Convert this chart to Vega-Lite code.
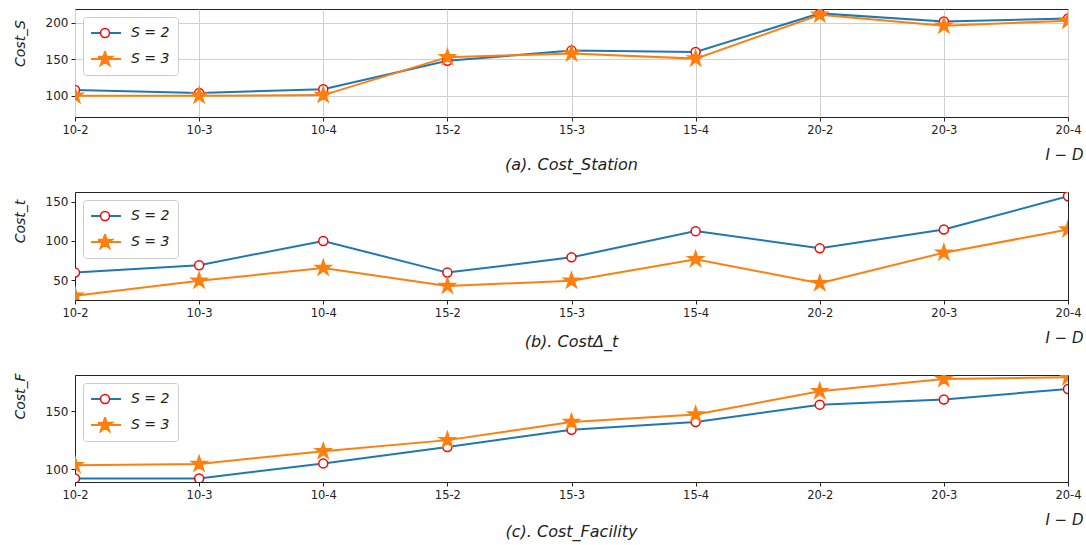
{
  "$schema": "https://vega.github.io/schema/vega-lite/v6.json",
  "background": "white",
  "padding": {"left": 12, "top": 8, "right": 0, "bottom": 2},
  "datasets": {
    "costs": [
      {"panel": "a", "ID": "10-2", "series": "S = 2", "value": 108},
      {"panel": "a", "ID": "10-3", "series": "S = 2", "value": 104},
      {"panel": "a", "ID": "10-4", "series": "S = 2", "value": 109},
      {"panel": "a", "ID": "15-2", "series": "S = 2", "value": 148},
      {"panel": "a", "ID": "15-3", "series": "S = 2", "value": 162},
      {"panel": "a", "ID": "15-4", "series": "S = 2", "value": 160},
      {"panel": "a", "ID": "20-2", "series": "S = 2", "value": 213},
      {"panel": "a", "ID": "20-3", "series": "S = 2", "value": 202},
      {"panel": "a", "ID": "20-4", "series": "S = 2", "value": 206},
      {"panel": "a", "ID": "10-2", "series": "S = 3", "value": 100},
      {"panel": "a", "ID": "10-3", "series": "S = 3", "value": 100},
      {"panel": "a", "ID": "10-4", "series": "S = 3", "value": 101},
      {"panel": "a", "ID": "15-2", "series": "S = 3", "value": 153},
      {"panel": "a", "ID": "15-3", "series": "S = 3", "value": 158},
      {"panel": "a", "ID": "15-4", "series": "S = 3", "value": 151},
      {"panel": "a", "ID": "20-2", "series": "S = 3", "value": 211},
      {"panel": "a", "ID": "20-3", "series": "S = 3", "value": 196},
      {"panel": "a", "ID": "20-4", "series": "S = 3", "value": 203},
      {"panel": "b", "ID": "10-2", "series": "S = 2", "value": 59.5},
      {"panel": "b", "ID": "10-3", "series": "S = 2", "value": 69},
      {"panel": "b", "ID": "10-4", "series": "S = 2", "value": 100},
      {"panel": "b", "ID": "15-2", "series": "S = 2", "value": 59.5},
      {"panel": "b", "ID": "15-3", "series": "S = 2", "value": 79},
      {"panel": "b", "ID": "15-4", "series": "S = 2", "value": 112.5},
      {"panel": "b", "ID": "20-2", "series": "S = 2", "value": 90.5},
      {"panel": "b", "ID": "20-3", "series": "S = 2", "value": 114.5},
      {"panel": "b", "ID": "20-4", "series": "S = 2", "value": 157},
      {"panel": "b", "ID": "10-2", "series": "S = 3", "value": 30},
      {"panel": "b", "ID": "10-3", "series": "S = 3", "value": 49},
      {"panel": "b", "ID": "10-4", "series": "S = 3", "value": 65.5},
      {"panel": "b", "ID": "15-2", "series": "S = 3", "value": 42.5},
      {"panel": "b", "ID": "15-3", "series": "S = 3", "value": 49},
      {"panel": "b", "ID": "15-4", "series": "S = 3", "value": 76.5},
      {"panel": "b", "ID": "20-2", "series": "S = 3", "value": 46},
      {"panel": "b", "ID": "20-3", "series": "S = 3", "value": 85},
      {"panel": "b", "ID": "20-4", "series": "S = 3", "value": 114.5},
      {"panel": "c", "ID": "10-2", "series": "S = 2", "value": 92},
      {"panel": "c", "ID": "10-3", "series": "S = 2", "value": 92},
      {"panel": "c", "ID": "10-4", "series": "S = 2", "value": 105},
      {"panel": "c", "ID": "15-2", "series": "S = 2", "value": 119},
      {"panel": "c", "ID": "15-3", "series": "S = 2", "value": 134},
      {"panel": "c", "ID": "15-4", "series": "S = 2", "value": 140.5},
      {"panel": "c", "ID": "20-2", "series": "S = 2", "value": 155.5},
      {"panel": "c", "ID": "20-3", "series": "S = 2", "value": 160},
      {"panel": "c", "ID": "20-4", "series": "S = 2", "value": 169},
      {"panel": "c", "ID": "10-2", "series": "S = 3", "value": 103.5},
      {"panel": "c", "ID": "10-3", "series": "S = 3", "value": 104.5},
      {"panel": "c", "ID": "10-4", "series": "S = 3", "value": 115.5},
      {"panel": "c", "ID": "15-2", "series": "S = 3", "value": 125},
      {"panel": "c", "ID": "15-3", "series": "S = 3", "value": 140.5},
      {"panel": "c", "ID": "15-4", "series": "S = 3", "value": 147},
      {"panel": "c", "ID": "20-2", "series": "S = 3", "value": 167},
      {"panel": "c", "ID": "20-3", "series": "S = 3", "value": 177.5},
      {"panel": "c", "ID": "20-4", "series": "S = 3", "value": 179}
    ]
  },
  "bounds": "flush",
  "spacing": 75,
  "resolve": {
    "scale": {"color": "independent", "fill": "independent", "stroke": "independent", "shape": "independent"},
    "legend": {"color": "independent", "fill": "independent", "stroke": "independent", "shape": "independent"}
  },
  "vconcat": [
    {
      "width": 993, "height": 108,
      "data": {"name": "costs"},
      "transform": [{"filter": "datum.panel === 'a'"}],
      "title": {"text": "(a). Cost_Station", "orient": "bottom", "anchor": "middle", "frame": "group", "offset": -5, "font": "DejaVu Sans", "fontSize": 16, "fontStyle": "italic", "fontWeight": "normal", "color": "#222"},
      "encoding": {
        "x": {"field": "ID", "type": "ordinal", "sort": null, "scale": {"type": "point", "padding": 0},
          "axis": {"title": "I − D", "labelAngle": 0, "labelFont": "DejaVu Sans", "labelFontSize": 11.5, "labelPadding": 3, "tickSize": 4, "domain": false, "grid": true, "gridColor": "#d0d0d0", "titleX": 1008, "titleY": 37, "titleAlign": "right", "titleBaseline": "middle", "titleFont": "DejaVu Sans", "titleFontSize": 15, "titleFontStyle": "italic", "titleFontWeight": "normal"}},
        "y": {"field": "value", "type": "quantitative", "scale": {"domain": [71, 219], "nice": false, "zero": false},
          "axis": {"title": "Cost_S", "values": [100, 150, 200], "labelFont": "DejaVu Sans", "labelFontSize": 12, "labelPadding": 3, "tickSize": 4, "domain": false, "grid": true, "gridColor": "#d0d0d0", "titlePadding": 18, "titleY": 34, "titleFont": "DejaVu Sans", "titleFontSize": 14, "titleFontStyle": "italic", "titleFontWeight": "normal"}}
      },
      "layer": [
        {"mark": {"type": "line", "strokeWidth": 2, "clip": true},
         "encoding": {"color": {"field": "series", "type": "nominal", "scale": {"range": ["#1f77b4", "#ff7f0e"]},
           "legend": {"orient": "top-left", "offset": 8, "title": null, "symbolType": "M-2,0H4.6", "symbolSize": 100, "symbolStrokeWidth": 2, "labelFont": "DejaVu Sans", "labelFontSize": 14, "labelFontStyle": "italic", "labelOffset": 26, "labelColor": "#222", "padding": 8, "clipHeight": 16, "rowPadding": 10, "strokeColor": "#cccccc", "fillColor": "#ffffff", "cornerRadius": 3}}}},
        {"mark": {"type": "point", "filled": true, "opacity": 1, "size": 81, "strokeWidth": 1.5, "clip": true},
         "encoding": {
           "shape": {"field": "series", "type": "nominal", "scale": {"range": ["circle", "M0,-1.8L0.404,-0.556L1.712,-0.556L0.654,0.213L1.058,1.456L0,0.688L-1.058,1.456L-0.654,0.213L-1.712,-0.556L-0.404,-0.556Z"]},
             "legend": {"orient": "none", "legendX": 15, "legendY": 8, "title": null, "symbolSize": 81, "symbolStrokeWidth": 1.5, "symbolOpacity": 1, "labelExpr": "''", "labelFontSize": 14, "labelOffset": 26, "padding": 8, "clipHeight": 16, "rowPadding": 10}},
           "fill": {"field": "series", "type": "nominal", "scale": {"range": ["#ffffff", "#ff7f0e"]},
             "legend": {"orient": "none", "legendX": 15, "legendY": 8, "title": null, "symbolSize": 81, "symbolStrokeWidth": 1.5, "symbolOpacity": 1, "labelExpr": "''", "labelFontSize": 14, "labelOffset": 26, "padding": 8, "clipHeight": 16, "rowPadding": 10}},
           "stroke": {"field": "series", "type": "nominal", "scale": {"range": ["#ff0000", "#ff7f0e"]},
             "legend": {"orient": "none", "legendX": 15, "legendY": 8, "title": null, "symbolSize": 81, "symbolStrokeWidth": 1.5, "symbolOpacity": 1, "labelExpr": "''", "labelFontSize": 14, "labelOffset": 26, "padding": 8, "clipHeight": 16, "rowPadding": 10}}
         }}
      ]
    },
    {
      "width": 993, "height": 108,
      "data": {"name": "costs"},
      "transform": [{"filter": "datum.panel === 'b'"}],
      "title": {"text": "(b). CostΔ_t", "orient": "bottom", "anchor": "middle", "frame": "group", "offset": -11, "font": "DejaVu Sans", "fontSize": 16, "fontStyle": "italic", "fontWeight": "normal", "color": "#222"},
      "encoding": {
        "x": {"field": "ID", "type": "ordinal", "sort": null, "scale": {"type": "point", "padding": 0},
          "axis": {"title": "I − D", "labelAngle": 0, "labelFont": "DejaVu Sans", "labelFontSize": 11.5, "labelPadding": 3, "tickSize": 4, "domain": false, "grid": false, "titleX": 1008, "titleY": 37, "titleAlign": "right", "titleBaseline": "middle", "titleFont": "DejaVu Sans", "titleFontSize": 15, "titleFontStyle": "italic", "titleFontWeight": "normal"}},
        "y": {"field": "value", "type": "quantitative", "scale": {"domain": [24.5, 162.5], "nice": false, "zero": false},
          "axis": {"title": "Cost_t", "values": [50, 100, 150], "labelFont": "DejaVu Sans", "labelFontSize": 12, "labelPadding": 3, "tickSize": 4, "domain": false, "grid": false, "titlePadding": 18, "titleY": 29, "titleFont": "DejaVu Sans", "titleFontSize": 14, "titleFontStyle": "italic", "titleFontWeight": "normal"}}
      },
      "layer": [
        {"mark": {"type": "line", "strokeWidth": 2, "clip": true},
         "encoding": {"color": {"field": "series", "type": "nominal", "scale": {"range": ["#1f77b4", "#ff7f0e"]},
           "legend": {"orient": "top-left", "offset": 8, "title": null, "symbolType": "M-2,0H4.6", "symbolSize": 100, "symbolStrokeWidth": 2, "labelFont": "DejaVu Sans", "labelFontSize": 14, "labelFontStyle": "italic", "labelOffset": 26, "labelColor": "#222", "padding": 8, "clipHeight": 16, "rowPadding": 10, "strokeColor": "#cccccc", "fillColor": "#ffffff", "cornerRadius": 3}}}},
        {"mark": {"type": "point", "filled": true, "opacity": 1, "size": 81, "strokeWidth": 1.5, "clip": true},
         "encoding": {
           "shape": {"field": "series", "type": "nominal", "scale": {"range": ["circle", "M0,-1.8L0.404,-0.556L1.712,-0.556L0.654,0.213L1.058,1.456L0,0.688L-1.058,1.456L-0.654,0.213L-1.712,-0.556L-0.404,-0.556Z"]},
             "legend": {"orient": "none", "legendX": 15, "legendY": 8, "title": null, "symbolSize": 81, "symbolStrokeWidth": 1.5, "symbolOpacity": 1, "labelExpr": "''", "labelFontSize": 14, "labelOffset": 26, "padding": 8, "clipHeight": 16, "rowPadding": 10}},
           "fill": {"field": "series", "type": "nominal", "scale": {"range": ["#ffffff", "#ff7f0e"]},
             "legend": {"orient": "none", "legendX": 15, "legendY": 8, "title": null, "symbolSize": 81, "symbolStrokeWidth": 1.5, "symbolOpacity": 1, "labelExpr": "''", "labelFontSize": 14, "labelOffset": 26, "padding": 8, "clipHeight": 16, "rowPadding": 10}},
           "stroke": {"field": "series", "type": "nominal", "scale": {"range": ["#ff0000", "#ff7f0e"]},
             "legend": {"orient": "none", "legendX": 15, "legendY": 8, "title": null, "symbolSize": 81, "symbolStrokeWidth": 1.5, "symbolOpacity": 1, "labelExpr": "''", "labelFontSize": 14, "labelOffset": 26, "padding": 8, "clipHeight": 16, "rowPadding": 10}}
         }}
      ]
    },
    {
      "width": 993, "height": 107,
      "data": {"name": "costs"},
      "transform": [{"filter": "datum.panel === 'c'"}],
      "title": {"text": "(c). Cost_Facility", "orient": "bottom", "anchor": "middle", "frame": "group", "offset": -3, "font": "DejaVu Sans", "fontSize": 16, "fontStyle": "italic", "fontWeight": "normal", "color": "#222"},
      "encoding": {
        "x": {"field": "ID", "type": "ordinal", "sort": null, "scale": {"type": "point", "padding": 0},
          "axis": {"title": "I − D", "labelAngle": 0, "labelFont": "DejaVu Sans", "labelFontSize": 11.5, "labelPadding": 3, "tickSize": 4, "domain": false, "grid": false, "titleX": 1008, "titleY": 37, "titleAlign": "right", "titleBaseline": "middle", "titleFont": "DejaVu Sans", "titleFontSize": 15, "titleFontStyle": "italic", "titleFontWeight": "normal"}},
        "y": {"field": "value", "type": "quantitative", "scale": {"domain": [89, 181], "nice": false, "zero": false},
          "axis": {"title": "Cost_F", "values": [100, 150], "labelFont": "DejaVu Sans", "labelFontSize": 12, "labelPadding": 3, "tickSize": 4, "domain": false, "grid": false, "titlePadding": 18, "titleY": 21, "titleFont": "DejaVu Sans", "titleFontSize": 14, "titleFontStyle": "italic", "titleFontWeight": "normal"}}
      },
      "layer": [
        {"mark": {"type": "line", "strokeWidth": 2, "clip": true},
         "encoding": {"color": {"field": "series", "type": "nominal", "scale": {"range": ["#1f77b4", "#ff7f0e"]},
           "legend": {"orient": "top-left", "offset": 8, "title": null, "symbolType": "M-2,0H4.6", "symbolSize": 100, "symbolStrokeWidth": 2, "labelFont": "DejaVu Sans", "labelFontSize": 14, "labelFontStyle": "italic", "labelOffset": 26, "labelColor": "#222", "padding": 8, "clipHeight": 16, "rowPadding": 10, "strokeColor": "#cccccc", "fillColor": "#ffffff", "cornerRadius": 3}}}},
        {"mark": {"type": "point", "filled": true, "opacity": 1, "size": 81, "strokeWidth": 1.5, "clip": true},
         "encoding": {
           "shape": {"field": "series", "type": "nominal", "scale": {"range": ["circle", "M0,-1.8L0.404,-0.556L1.712,-0.556L0.654,0.213L1.058,1.456L0,0.688L-1.058,1.456L-0.654,0.213L-1.712,-0.556L-0.404,-0.556Z"]},
             "legend": {"orient": "none", "legendX": 15, "legendY": 8, "title": null, "symbolSize": 81, "symbolStrokeWidth": 1.5, "symbolOpacity": 1, "labelExpr": "''", "labelFontSize": 14, "labelOffset": 26, "padding": 8, "clipHeight": 16, "rowPadding": 10}},
           "fill": {"field": "series", "type": "nominal", "scale": {"range": ["#ffffff", "#ff7f0e"]},
             "legend": {"orient": "none", "legendX": 15, "legendY": 8, "title": null, "symbolSize": 81, "symbolStrokeWidth": 1.5, "symbolOpacity": 1, "labelExpr": "''", "labelFontSize": 14, "labelOffset": 26, "padding": 8, "clipHeight": 16, "rowPadding": 10}},
           "stroke": {"field": "series", "type": "nominal", "scale": {"range": ["#ff0000", "#ff7f0e"]},
             "legend": {"orient": "none", "legendX": 15, "legendY": 8, "title": null, "symbolSize": 81, "symbolStrokeWidth": 1.5, "symbolOpacity": 1, "labelExpr": "''", "labelFontSize": 14, "labelOffset": 26, "padding": 8, "clipHeight": 16, "rowPadding": 10}}
         }}
      ]
    }
  ],
  "config": {
    "view": {"stroke": "#222222", "strokeWidth": 1},
    "axis": {"tickColor": "#222222", "labelColor": "#222222", "titleColor": "#222222"}
  }
}
